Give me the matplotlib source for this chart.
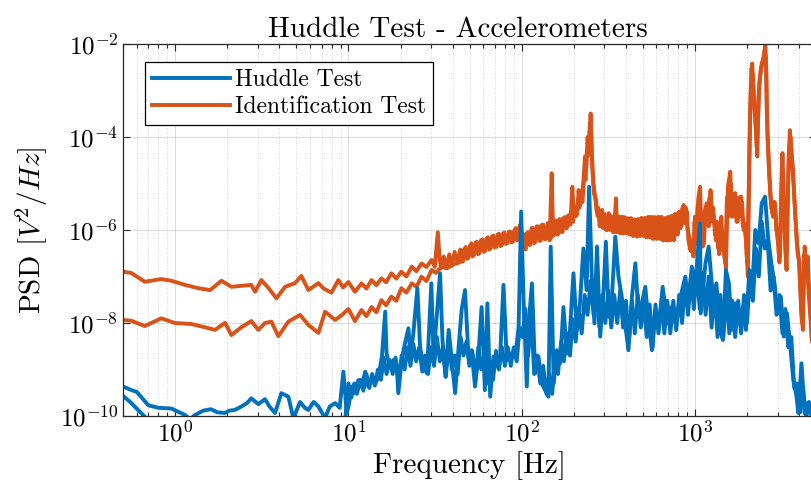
import matplotlib
matplotlib.use("Agg")
import matplotlib.pyplot as plt

# ---- PSD data (frequency in Hz, PSD in V^2/Hz) ----
# Huddle test, accelerometer 1
huddle_f1 = [0.5, 0.56, 0.6, 0.7, 0.8, 0.95, 1.14, 1.22, 1.30, 1.45, 1.61, 1.75, 1.94, 2.05,
             2.21, 2.41, 2.6, 2.75, 3.02, 3.30, 3.5, 3.77, 4.10, 4.50, 4.81, 5.26, 5.6, 5.87,
             6.3, 6.71, 7.33, 7.8, 8.38, 8.9, 9.35, 9.78, 10.0, 10.5, 10.9, 11.4, 11.9, 12.5,
             13.0, 13.6, 14.3, 14.9, 15.6, 16.3, 16.6, 17.3, 18.2, 19.0, 19.4, 20.3, 21.2,
             22.2, 22.8, 23.7, 25.0, 25.9, 27.1, 28.4, 30.1, 31.0, 32.3, 33.8, 34.9, 36.3,
             37.9, 39.5, 41.3, 43.1, 45.0, 47.1, 49.3, 51.4, 53.8, 56.2, 58.7, 61.3, 63.4,
             65.8, 68.7, 71.9, 75.1, 78.5, 82.0, 85.7, 91.9, 96.0, 99.3, 102.4, 107, 109.8,
             114.6, 119.6, 125, 130.6, 136.5, 142.7, 147.1, 153, 159.6, 166.7, 174.2, 182,
             190, 199, 208, 217, 227, 237, 245, 254, 263, 272, 284, 297, 306, 318, 332, 347,
             362, 378, 395, 413, 433, 453, 473, 494, 517, 540, 565, 590, 617, 651, 695, 732,
             776, 826, 880, 915, 960, 1000, 1070, 1080, 1150, 1200, 1270, 1330, 1390, 1450,
             1510, 1570, 1640, 1710, 1780, 1890, 1970, 2060, 2140, 2230, 2330, 2430, 2540,
             2640, 2760, 2880, 3000, 3130, 3260, 3400, 3550, 3700, 3860, 3950, 4120, 4300,
             4470, 5000]
huddle_p1 = [4.3e-10, 3.6e-10, 3.3e-10, 1.7e-10, 1.5e-10, 1.45e-10, 1.05e-10, 8.5e-11, 1.05e-10,
             1.3e-10, 1.4e-10, 1.2e-10, 1.16e-10, 1.3e-10, 1.35e-10, 1.6e-10, 1.9e-10, 2.4e-10,
             1.8e-10, 2.3e-10, 1.6e-10, 1.16e-10, 3.1e-10, 2.6e-10, 9e-11, 2.0e-10, 1.5e-10,
             1.35e-10, 2.0e-10, 1.6e-10, 9e-11, 1.6e-10, 1.9e-10, 1.5e-10, 9e-10, 1.16e-10,
             1.6e-10, 4.3e-10, 3.1e-10, 5.9e-10, 4.3e-10, 9.0e-10, 4.3e-10, 6.6e-10, 5.0e-10,
             7.0e-10, 1.89e-9, 1.75e-8, 2.2e-9, 1.15e-9, 1.6e-9, 1.15e-9, 3.1e-10, 1.6e-9,
             3.65e-9, 7.7e-9, 1.89e-9, 6.0e-9, 5.6e-8, 3.1e-9, 1.15e-9, 8.3e-10, 7.1e-8,
             1.89e-9, 1.37e-8, 1.17e-7, 4.3e-9, 7.0e-10, 7.1e-9, 1.6e-9, 3.1e-10, 2.6e-9,
             1.9e-8, 5.1e-8, 1.89e-9, 2.6e-9, 4.3e-10, 1.89e-9, 2.2e-8, 3.6e-10, 2.65e-8,
             2.6e-10, 1.89e-9, 1.15e-9, 1.89e-9, 6.6e-8, 1.6e-9, 2.2e-9, 1.89e-9, 8.3e-9,
             2.5e-6, 3.7e-8, 4.3e-10, 9.8e-9, 7.1e-8, 8.3e-10, 1.89e-9, 5.0e-10, 3.6e-10,
             2.6e-10, 4.4e-7, 5.0e-10, 2.6e-9, 1.36e-9, 2.2e-8, 2.2e-9, 7.1e-9, 1.17e-7,
             7.1e-9, 2.65e-8, 4.0e-7, 5.1e-8, 8.5e-6, 9.9e-8, 9.8e-9, 4.4e-7, 5.1e-9, 5.1e-8,
             5.6e-7, 1.37e-8, 3.7e-8, 7.2e-7, 9.9e-8, 3.7e-8, 9.8e-9, 2.6e-9, 3.7e-8, 1.92e-7,
             1.37e-8, 2.65e-8, 6.0e-8, 9.8e-9, 2.6e-9, 1.9e-8, 7.1e-9, 6.0e-8, 9.8e-9, 2.2e-8,
             9.8e-9, 3.7e-8, 9.9e-8, 2.65e-8, 1.63e-7, 5.1e-8, 1.39e-6, 1.61e-8, 1.92e-7,
             4.4e-7, 3.7e-8, 7.1e-8, 7.1e-9, 4.3e-9, 1.38e-7, 7.1e-8, 7.1e-9, 2.65e-8, 9.8e-9,
             2.2e-8, 7.1e-9, 1.38e-7, 5.1e-8, 1.0e-6, 5.2e-7, 3.75e-6, 5.2e-6, 7.2e-7, 1.92e-7,
             7.1e-8, 1.61e-8, 3.7e-8, 5.1e-9, 1.61e-8, 3.1e-9, 5.9e-10, 2.6e-10, 1.16e-10,
             1.36e-9, 1.16e-10, 1.9e-10, 1.0e-10]

# Huddle test, accelerometer 2
huddle_f2 = [0.5, 0.55, 0.61, 0.68, 0.75, 0.9, 1.1, 2.0, 5.0, 9.6,
             10, 10.4, 10.8, 11.2, 11.7, 12.2, 12.7, 13.2, 13.7, 14.2,
             14.8, 15.4, 16.0, 16.6, 17.3, 18.0, 18.7, 19.5, 20.3, 21.1,
             21.9, 22.8, 23.7, 24.6, 25.6, 26.7, 27.7, 28.8, 30.0, 31.2,
             32.4, 33.7, 35.1, 36.5, 38.0, 39.5, 41.0, 42.7, 44.4, 46.2,
             48.0, 49.9, 51.9, 54.0, 56.2, 58.4, 60.7, 63.2, 65.7, 68.3,
             71.1, 73.9, 76.9, 80.0, 83.2, 86.5, 90.0, 93.6, 97.3, 101,
             105, 109, 114, 118, 123, 128, 133, 139, 144, 150,
             156, 162, 169, 175, 182, 190, 197, 205, 213, 222,
             231, 240, 250, 260, 270, 281, 292, 304, 316, 329,
             342, 356, 370, 385, 400, 416, 433, 450, 468, 487,
             506, 527, 548, 570, 592, 616, 641, 666, 693, 721,
             750, 780, 811, 843, 877, 912, 948, 986, 1025, 1066,
             1109, 1153, 1200, 1248, 1298, 1350, 1404, 1460, 1518, 1579,
             1642, 1708, 1776, 1847, 1921, 1998, 2078, 2161, 2248, 2337,
             2431, 2528, 2629, 2735, 2844, 2958, 3076, 3199, 3327, 3460,
             3599, 3743, 3893, 4048, 4210, 4379, 4554, 4736, 4926]
huddle_p2 = [2.7e-10, 2.0e-10, 1.35e-10, 9e-11, 7e-11, 5e-11, 4e-11, 5e-11, 6e-11, 9e-11,
             5e-10, 2.5e-10, 5e-10, 3e-10, 6e-10, 3.5e-10, 8e-10, 4e-10, 8e-10, 4.5e-10,
             1e-9, 6e-10, 1.8e-9, 8e-10, 1.6e-9, 8e-10, 1.8e-9, 6e-10, 2e-9, 1e-9,
             3e-9, 1.2e-9, 3.5e-9, 1.5e-9, 3e-9, 9e-10, 2e-9, 8e-10, 3e-9, 1.2e-9,
             5e-9, 1.5e-9, 3e-9, 7e-10, 4e-9, 1e-9, 2e-9, 8e-10, 5e-9, 2e-9,
             4e-9, 1.2e-9, 2.5e-9, 6e-10, 3e-9, 1e-9, 2e-9, 5e-10, 1.5e-9, 6e-10,
             2.5e-9, 1e-9, 3e-9, 1.2e-9, 3e-9, 1.2e-9, 3e-9, 1.5e-9, 8e-9, 5e-9,
             2e-8, 2e-9, 1.5e-8, 8e-10, 2e-9, 5e-10, 1.2e-9, 3e-10, 8e-10, 3e-10,
             2e-9, 8e-10, 4e-9, 1.5e-9, 6e-9, 2e-9, 1.2e-8, 4e-9, 2e-8, 6e-9,
             4e-8, 1.5e-8, 8e-8, 1.5e-8, 5e-8, 8e-9, 4e-8, 1e-8, 5e-8, 8e-9,
             4e-8, 1e-8, 5e-8, 8e-9, 3e-8, 4e-9, 3e-8, 6e-9, 4e-8, 8e-9,
             3e-8, 5e-9, 2.5e-8, 3e-9, 2.5e-8, 6e-9, 3e-8, 6e-9, 3e-8, 6e-9,
             3e-8, 7e-9, 4e-8, 1e-8, 8e-8, 1.5e-8, 1e-7, 2e-8, 1.5e-7, 2e-8,
             1.2e-7, 1.5e-8, 1e-7, 8e-9, 6e-8, 5e-9, 4e-8, 5e-9, 5e-8, 6e-9,
             3e-8, 5e-9, 3e-8, 6e-9, 4e-8, 1e-8, 1e-7, 3e-8, 4e-7, 1e-7,
             1.5e-6, 4e-7, 6e-7, 5e-8, 1e-7, 1.5e-8, 4e-8, 6e-9, 2e-8, 3e-9,
             5e-9, 4e-10, 5e-10, 1.2e-10, 4e-10, 9e-11, 2e-10, 8e-11, 1.5e-10]

# Identification test, accelerometer 1
ident_f1 = [0.5, 0.557, 0.668, 0.83, 0.95, 1.14, 1.36, 1.59, 1.85, 2.11, 2.4, 2.75, 2.89, 3.14,
            3.45, 3.84, 4.31, 4.92, 5.35, 5.87, 6.71, 7.2, 7.98, 8.75, 9.3, 10.0, 10.9, 11.9,
            12.7, 13.6, 14.5, 15.5, 16.5, 17.7, 18.9, 20.2, 21.6, 23.2, 24.7, 26.4, 28.2,
            30.2, 31.5, 32.8, 33.6, 34.2, 35.5, 36.8, 38.2, 39.6, 41.0, 42.6, 44.2, 45.8,
            47.5, 49.3, 51.2, 53.1, 55.1, 57.1, 59.3, 61.5, 63.8, 66.2, 68.7, 71.3, 74.0,
            76.8, 79.7, 82.7, 85.8, 89.0, 92.3, 95.8, 98.0, 101, 104, 107, 110, 114, 118,
            122, 127, 131, 136, 141, 145, 149, 152, 157, 162, 167, 172, 177, 182, 187, 191,
            196, 200, 204, 209, 213, 218, 222, 227, 232, 236, 240, 245, 250, 254, 259, 264,
            268, 274, 279, 285, 291, 298, 304, 311, 318, 325, 332, 341, 350, 356, 362, 370,
            378, 386, 395, 404, 413, 423, 433, 443, 453, 463, 473, 483, 495, 506, 517, 530,
            542, 553, 565, 578, 590, 603, 617, 630, 645, 660, 674, 690, 705, 720, 740, 757,
            776, 795, 815, 835, 860, 878, 897, 917, 940, 960, 980, 990, 1000, 1020, 1050,
            1070, 1090, 1110, 1140, 1170, 1200, 1230, 1260, 1290, 1320, 1350, 1380, 1420,
            1450, 1480, 1510, 1550, 1600, 1620, 1640, 1670, 1710, 1740, 1780, 1810, 1850,
            1890, 1930, 1980, 2020, 2060, 2100, 2140, 2180, 2220, 2260, 2290, 2330, 2380,
            2430, 2490, 2550, 2580, 2600, 2650, 2700, 2760, 2820, 2860, 2900, 2950, 3000,
            3050, 3100, 3150, 3200, 3250, 3300, 3340, 3380, 3450, 3530, 3600, 3680, 3760,
            3840, 3920, 4020, 4100, 4200, 4250, 4300, 4400, 4470, 4700, 5000]
ident_p1 = [1.27e-7, 1.19e-7, 7.7e-8, 8.8e-8, 8.1e-8, 6.6e-8, 5.6e-8, 5.1e-8, 8.1e-8, 6.0e-8,
            6.3e-8, 6.6e-8, 4.7e-8, 8.4e-8, 5.7e-8, 3.4e-8, 6.0e-8, 7.2e-8, 1.03e-7, 5.1e-8,
            7.2e-8, 5.5e-8, 4.5e-8, 8.4e-8, 5.8e-8, 7.6e-8, 4.7e-8, 7.1e-8, 5.5e-8, 8.4e-8,
            6.5e-8, 9.1e-8, 7.5e-8, 1.17e-7, 9e-8, 1.27e-7, 1.0e-7, 1.63e-7, 1.3e-7, 1.9e-7,
            1.6e-7, 2.27e-7, 1.6e-7, 9e-7, 2.5e-7, 1.5e-7, 2.7e-7, 1.5e-7, 3.0e-7, 1.7e-7,
            3.4e-7, 1.9e-7, 3.8e-7, 2.1e-7, 4.3e-7, 2.5e-7, 5.2e-7, 2.9e-7, 5.6e-7, 3.2e-7,
            6.3e-7, 3.5e-7, 7.0e-7, 4.0e-7, 7.6e-7, 4.3e-7, 8.3e-7, 4.7e-7, 8.8e-7, 5.2e-7,
            9.3e-7, 5.6e-7, 1.1e-6, 6.4e-7, 1.3e-6, 6.5e-7, 4.0e-7, 8.5e-7, 4.8e-7, 1.1e-6,
            5.2e-7, 1.2e-6, 5.8e-7, 1.3e-6, 6.3e-7, 1.4e-6, 6.0e-7, 1.66e-5, 7.5e-7, 1.6e-6,
            8.0e-7, 1.7e-6, 9.0e-7, 1.9e-6, 1.1e-6, 2.1e-6, 1.3e-6, 8.5e-6, 2.0e-6, 3.2e-6,
            2.2e-6, 7.2e-6, 3.5e-6, 5.2e-6, 1.1e-5, 3.8e-5, 2.5e-5, 1.0e-4, 6e-5, 3.2e-4,
            3.8e-5, 1.0e-5, 6e-6, 4.4e-6, 2.0e-6, 2.3e-6, 1.3e-6, 2.7e-6, 1.2e-6, 1.93e-6,
            1.0e-6, 2.3e-6, 1.1e-6, 1.9e-6, 9e-7, 4.8e-6, 1.0e-6, 1.9e-6, 8.5e-7, 1.93e-6,
            8.5e-7, 1.8e-6, 8.5e-7, 1.7e-6, 8e-7, 1.7e-6, 7.5e-7, 1.6e-6, 7.2e-7, 1.7e-6,
            7.5e-7, 1.8e-6, 7.5e-7, 1.8e-6, 7e-7, 1.9e-6, 7.5e-7, 1.9e-6, 6.5e-7, 1.8e-6,
            6.5e-7, 1.9e-6, 6.5e-7, 1.9e-6, 6e-7, 1.8e-6, 6e-7, 1.9e-6, 6e-7, 2.0e-6, 6e-7,
            2.2e-6, 8e-7, 2.5e-6, 1.2e-6, 3.45e-6, 1.4e-6, 2.5e-6, 6e-7, 3.7e-7, 5e-7, 2.7e-7,
            6e-7, 1.93e-6, 5e-7, 5.2e-6, 8.5e-6, 1.0e-6, 4.4e-7, 2.5e-6, 3.75e-6, 1.2e-6,
            7.2e-6, 2e-6, 1.93e-6, 6e-7, 1.0e-6, 3e-7, 1.93e-6, 4e-7, 2.7e-7, 1.5e-7, 8.5e-6,
            1.8e-5, 3e-6, 1.93e-6, 6e-6, 6.2e-6, 1.5e-6, 1.93e-6, 5e-6, 5.2e-6, 1.2e-6,
            1.39e-6, 5e-7, 1.0e-7, 2.7e-5, 1e-3, 3.8e-3, 1e-3, 3.2e-4, 1e-4, 3.8e-5, 7.4e-4,
            2e-3, 3.8e-3, 5e-3, 1.0e-2, 3e-3, 3.2e-4, 5e-5, 1.19e-5, 3e-6, 1.93e-6, 4e-6,
            3.75e-6, 1e-6, 1.0e-6, 3e-7, 2.7e-7, 5e-6, 4.5e-5, 5e-6, 1.0e-6, 3e-7, 1.38e-7,
            1e-5, 1.4e-4, 5e-5, 1.95e-5, 4e-6, 1.0e-6, 3e-7, 1.92e-7, 2e-8, 7.1e-9, 1e-7,
            4.4e-7, 1e-7, 2.7e-7, 5e-9, 1e-9]

# Identification test, accelerometer 2
ident_f2 = [0.5, 0.557, 0.668, 0.83, 0.996, 1.24, 1.48, 1.70, 1.94, 2.11, 2.41, 2.75, 3.02,
            3.30, 3.59, 3.94, 4.50, 5.26, 5.87, 6.71, 7.33, 8.38, 9.2, 10.0, 10.9, 11.9, 12.7,
            13.6, 14.5, 15.5, 16.5, 17.7, 18.9, 20.2, 21.6, 23.2, 24.7, 26.4, 28.2, 30.2,
            32.0, 34.5, 37.0, 40.0, 43.0, 44.9, 46.6, 48.4, 50.2, 52.2, 54.1, 56.2, 58.2,
            60.5, 62.7, 65.0, 67.5, 70.0, 72.7, 75.4, 78.3, 81.2, 84.3, 87.4, 90.7, 94.1,
            97.0, 99.5, 102.5, 105.5, 108.5, 112, 116, 120, 124.5, 129, 133.5, 138.5, 143,
            147, 154.5, 159.5, 164.5, 169.5, 174.5, 179.5, 184.5, 189, 193.5, 198, 202, 206.5,
            211, 215.5, 220, 224.5, 229.5, 234, 238, 242.5, 247.5, 252, 256.5, 261.5, 266,
            271, 276.5, 282, 288, 294.5, 301, 307.5, 314.5, 321.5, 328.5, 336.5, 345.5, 353,
            359, 366, 374, 382, 390.5, 399.5, 408.5, 418, 428, 438, 448, 458, 468, 478, 489,
            500.5, 511.5, 523.5, 536, 547.5, 559, 571.5, 584, 596.5, 610, 623.5, 637.5, 652.5,
            667, 682, 697.5, 712.5, 730, 748.5, 766.5, 785.5, 805, 825, 847.5, 869, 887.5,
            907, 928.5, 950, 970, 985, 995, 1010, 1035, 1060, 1080, 1100, 1125, 1155, 1185,
            1215, 1245, 1275, 1305, 1335, 1365, 1400, 1435, 1465, 1495, 1530, 1575, 1610,
            1630, 1655, 1690, 1725, 1760, 1795, 1830, 1870, 1910, 1955, 2000, 2040, 2080,
            2120, 2160, 2200, 2240, 2275, 2310, 2355, 2405, 2460, 2520, 2565, 2590, 2625,
            2675, 2730, 2790, 2840, 2880, 2925, 2975, 3025, 3075, 3125, 3175, 3225, 3275,
            3320, 3360, 3415, 3490, 3565, 3640, 3720, 3800, 3880, 3970, 4060, 4150, 4225,
            4275, 4350, 4435, 4600, 5000]
ident_p2 = [1.16e-8, 1.12e-8, 8.6e-9, 1.26e-8, 1.0e-8, 9.5e-9, 8.1e-9, 7.1e-9, 1.01e-8, 5.5e-9,
            8.1e-9, 1.1e-8, 7.1e-9, 1.0e-8, 1.07e-8, 5.2e-9, 1.07e-8, 1.49e-8, 9.1e-9, 6.1e-9,
            1.75e-8, 1.16e-8, 1.5e-8, 2.0e-8, 1.1e-8, 1.9e-8, 1.4e-8, 2.2e-8, 1.7e-8, 3.1e-8,
            2.4e-8, 3.7e-8, 3.0e-8, 5.6e-8, 4.5e-8, 7.1e-8, 6.0e-8, 9.9e-8, 8.0e-8, 1.38e-7,
            1.2e-7, 1.63e-7, 1.5e-7, 1.8e-7, 2.0e-7, 2.1e-7, 3.9e-7, 2.4e-7, 4.6e-7, 2.7e-7,
            5.3e-7, 3.0e-7, 6.0e-7, 3.4e-7, 6.6e-7, 3.8e-7, 7.3e-7, 4.2e-7, 8.0e-7, 4.5e-7,
            8.6e-7, 5.0e-7, 9.2e-7, 5.4e-7, 1.0e-6, 6.0e-7, 1.2e-6, 6.5e-7, 8.0e-7, 3.8e-7,
            9.0e-7, 4.8e-7, 1.1e-6, 5.5e-7, 1.2e-6, 6.0e-7, 1.3e-6, 6.5e-7, 1.4e-6, 6.5e-7,
            1.5e-6, 8.0e-7, 1.7e-6, 9.0e-7, 1.8e-6, 1.1e-6, 2.0e-6, 1.3e-6, 2.3e-6, 1.5e-6,
            2.8e-6, 2.0e-6, 4e-6, 3.0e-6, 5e-6, 4e-6, 1.5e-5, 1.2e-5, 5e-5, 4e-5, 2e-4, 1e-4,
            2e-5, 6e-6, 5e-6, 2.5e-6, 3e-6, 1.2e-6, 2.5e-6, 1.1e-6, 2.2e-6, 1.0e-6, 2.0e-6,
            1.0e-6, 2.0e-6, 9e-7, 2.0e-6, 9e-7, 2.0e-6, 9e-7, 1.9e-6, 8.5e-7, 1.9e-6, 8.5e-7,
            1.8e-6, 8e-7, 1.8e-6, 7.5e-7, 1.7e-6, 7.5e-7, 1.7e-6, 7.5e-7, 1.8e-6, 7.5e-7,
            1.8e-6, 7e-7, 1.9e-6, 7e-7, 1.9e-6, 6.5e-7, 1.9e-6, 6.5e-7, 1.9e-6, 6.5e-7, 1.9e-6,
            6e-7, 1.8e-6, 6e-7, 1.9e-6, 6e-7, 2.0e-6, 6.5e-7, 2.2e-6, 8e-7, 2.4e-6, 1.1e-6,
            3e-6, 1.5e-6, 3e-6, 1e-6, 7e-7, 3.5e-7, 6e-7, 3e-7, 1.5e-6, 6e-7, 3e-6, 6e-6,
            1.5e-6, 2e-6, 5e-7, 3e-6, 1.5e-6, 5e-6, 1.5e-6, 3e-6, 8e-7, 1.5e-6, 4e-7, 1.5e-6,
            5e-7, 6e-7, 2e-7, 5e-6, 2e-6, 1e-5, 2e-6, 4e-6, 2e-6, 5e-6, 1.5e-6, 4e-6, 2e-6,
            4e-6, 1e-6, 1e-6, 2e-7, 5e-6, 3e-4, 3e-3, 2e-3, 5e-4, 2e-4, 6e-5, 2e-4, 1.5e-3,
            3e-3, 4e-3, 7e-3, 5e-3, 1e-3, 1e-4, 2e-5, 5e-6, 2.5e-6, 3e-6, 4e-6, 2e-6, 8e-7,
            5e-7, 2e-7, 1.5e-6, 2e-5, 2e-5, 2e-6, 5e-7, 2e-7, 2e-6, 6e-5, 1e-4, 3e-5, 8e-6,
            2e-6, 5e-7, 2.5e-7, 5e-8, 1e-8, 3e-8, 3e-7, 2e-7, 1.5e-7, 2e-8, 1e-9]

BLUE = "#0072BD"
ORANGE = "#D95319"

plt.rcParams.update({
    "font.family": "cmr10",
    "mathtext.fontset": "cm",
    "axes.formatter.use_mathtext": True,
    "axes.unicode_minus": False,
})

fig = plt.figure(figsize=(8.11, 4.96), dpi=100)
ax = fig.add_axes([0.1517, 0.1613, 0.8545, 0.75])

lw = 2.8
ax.plot(ident_f1, ident_p1, color=ORANGE, lw=lw)
ax.plot(ident_f2, ident_p2, color=ORANGE, lw=lw)
h1, = ax.plot(huddle_f1, huddle_p1, color=BLUE, lw=lw)
ax.plot(huddle_f2, huddle_p2, color=BLUE, lw=lw)
h2, = ax.plot([], [], color=ORANGE, lw=lw)

ax.set_xscale("log")
ax.set_yscale("log")
ax.set_xlim(0.5, 5000)
ax.set_ylim(1e-10, 1e-2)
ax.set_yticks([1e-10, 1e-8, 1e-6, 1e-4, 1e-2])

ax.grid(True, which="major", color="#262626", alpha=0.15, lw=0.8, ls="-")
ax.grid(True, which="minor", color="#262626", alpha=0.25, lw=0.6, ls=(0, (1, 2)))
ax.tick_params(which="both", direction="in", top=True, right=True, labelsize=18,
               width=0.8, color="#262626")
ax.tick_params(which="major", length=5)
ax.tick_params(which="minor", length=3)
for s in ax.spines.values():
    s.set_color("#262626")
    s.set_linewidth(0.9)

ax.set_title("Huddle Test - Accelerometers", fontsize=21, pad=5, x=0.483)
ax.set_xlabel("Frequency [Hz]", fontsize=21, labelpad=3)
ax.set_ylabel(r"PSD $[V^2/Hz]$", fontsize=21, labelpad=7)

leg = ax.legend([h1, h2], ["Huddle Test", "Identification Test"], loc="upper left",
                bbox_to_anchor=(0.032, 0.952), borderaxespad=0, fontsize=17,
                handlelength=3.3, fancybox=False, framealpha=1, edgecolor="black",
                borderpad=0.3, labelspacing=0.2, handletextpad=0.2)
leg.get_frame().set_linewidth(0.9)

fig.savefig("out.png", dpi=100)
